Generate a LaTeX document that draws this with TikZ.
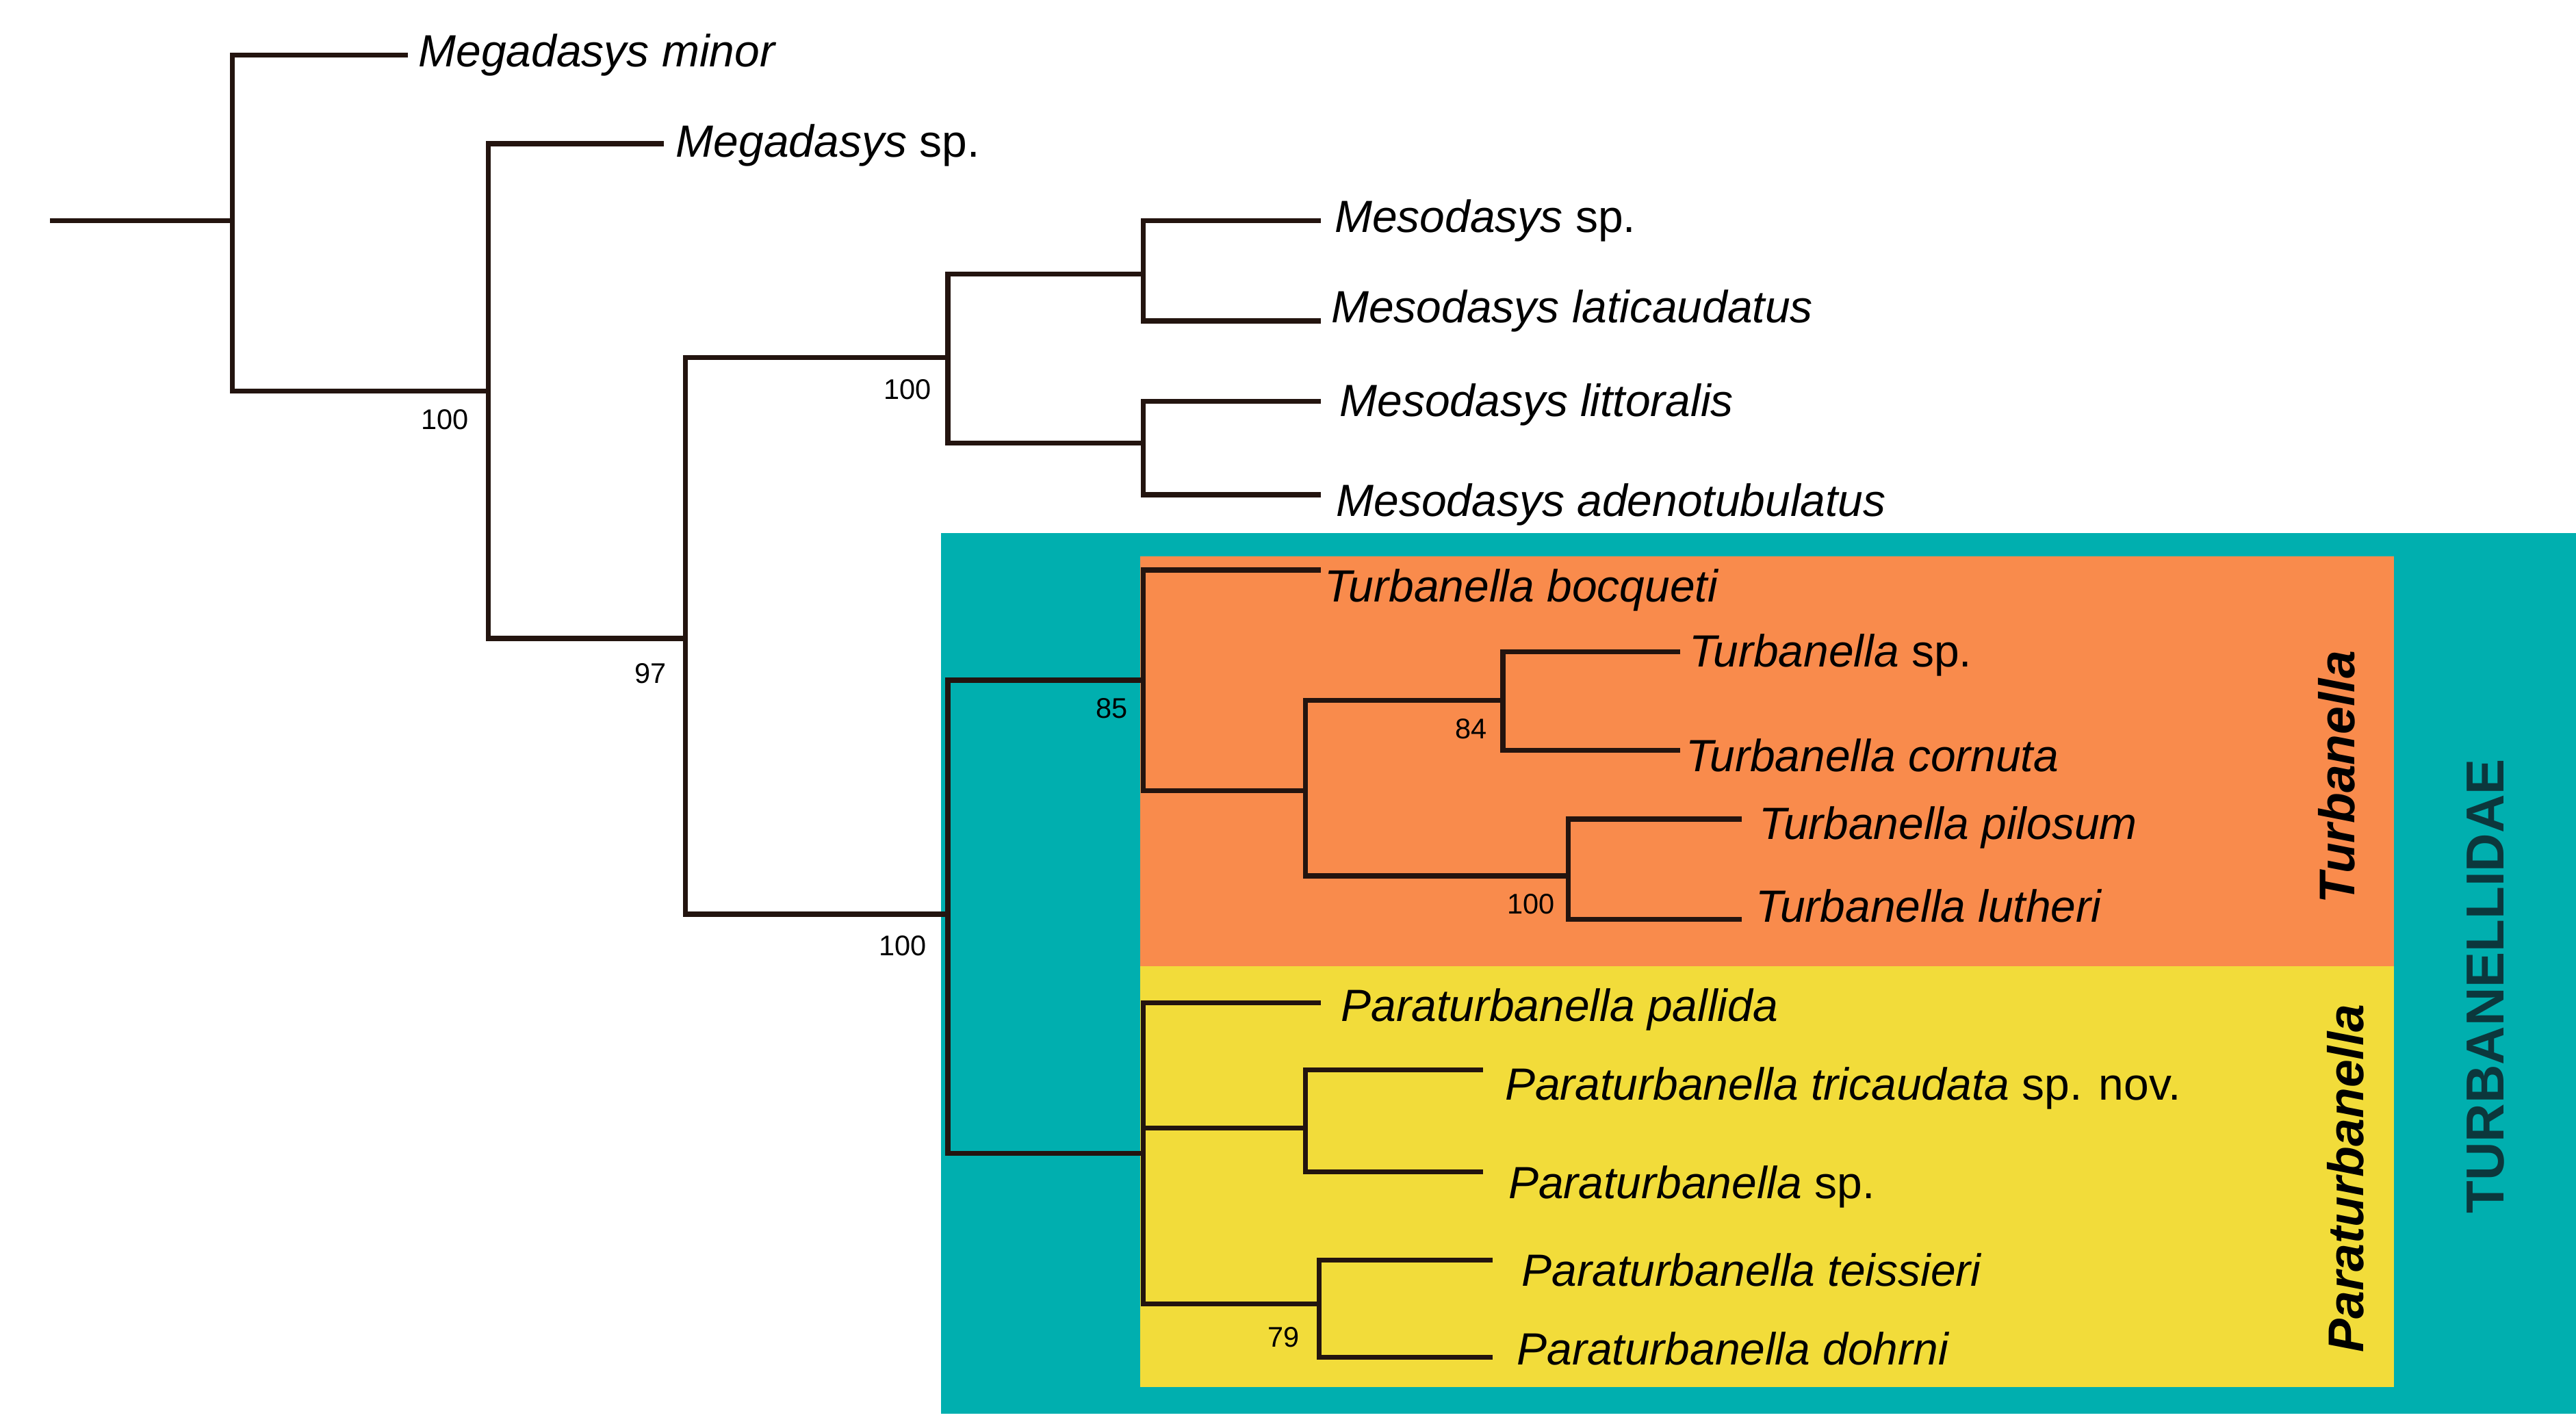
\documentclass[tikz,border=0pt]{standalone}
\usepackage{fontspec}
\setmainfont{Liberation Sans}
\definecolor{teal1}{RGB}{0,175,175}
\definecolor{orng}{RGB}{249,139,76}
\definecolor{yel}{RGB}{242,220,58}
\definecolor{dteal}{RGB}{12,55,60}
\definecolor{br}{RGB}{35,20,15}
\begin{document}
\begin{tikzpicture}[x=0.5pt,y=-0.5pt,
  br/.style={draw=br,line width=1.5pt},
  tx/.style={anchor=west,inner sep=0pt,font=\fontsize{13.5}{15}\selectfont},
  bs/.style={font=\fontsize{8.5}{10}\selectfont,inner sep=0pt}]
\useasboundingbox (0,0) rectangle (1541,851.6);
\fill[teal1] (563,319) rectangle (1541,846);
\fill[orng] (682,333) rectangle (1432,578);
\fill[yel] (682,578) rectangle (1432,830);
% tips
\coordinate (r) at (30,132);
\node[tx] (t1) at (250,33) {\textit{Megadasys minor}};
\node[tx] (t2) at (404,87) {\textit{Megadasys} sp.};
\node[tx] (t3) at (798,132) {\textit{Mesodasys} sp.};
\node[tx] (t4) at (796,186) {\textit{Mesodasys laticaudatus}};
\node[tx] (t5) at (801,242) {\textit{Mesodasys littoralis}};
\node[tx] (t6) at (799,302) {\textit{Mesodasys adenotubulatus}};
\node[tx] (t7) at (792,353) {\textit{Turbanella bocqueti}};
\node[tx] (t8) at (1010,392) {\textit{Turbanella} sp.};
\node[tx] (t9) at (1008,452) {\textit{Turbanella cornuta}};
\node[tx] (t10) at (1052,495) {\textit{Turbanella pilosum}};
\node[tx] (t11) at (1050,542) {\textit{Turbanella lutheri}};
\node[tx] (t12) at (802,604) {\textit{Paraturbanella pallida}};
\node[tx] (t13) at (900,651) {\textit{Paraturbanella tricaudata} sp. nov.};
\node[tx] (t14) at (902,710) {\textit{Paraturbanella} sp.};
\node[tx] (t15) at (910,760) {\textit{Paraturbanella teissieri}};
\node[tx] (t16) at (907,807) {\textit{Paraturbanella dohrni}};
% tree
\draw[br] (r) -- (139,132);
\draw[br] (244,33) -| (139,234) -- (292,234);
\draw[br] (397,86) -| (292,382) -- (410,382);
\draw[br] (567,214) -| (410,547) -- (567,547);
\draw[br] (684,164) -| (567,265) -- (684,265);
\draw[br] (790,132) -| (684,192) -- (790,192);
\draw[br] (790,240) -| (684,296) -- (790,296);
\draw[br] (684,407) -| (567,690) -- (684,690);
\draw[br] (790,341) -| (684,473) -- (781,473);
\draw[br] (899,419) -| (781,524) -- (938,524);
\draw[br] (1005,390) -| (899,449) -- (1005,449);
\draw[br] (1042,490) -| (938,550) -- (1042,550);
\draw[br] (790,600) -| (684,780) -- (789,780);
\draw[br] (684,675) -- (781,675);
\draw[br] (887,640) -| (781,701) -- (887,701);
\draw[br] (893,754) -| (789,812) -- (893,812);
% support
\node[bs] (b1) at (266,251) {100};
\node[bs] (b2) at (389,403) {97};
\node[bs] (b3) at (543,233) {100};
\node[bs] (b4) at (540,566) {100};
\node[bs] (b5) at (665,424) {85};
\node[bs] (b6) at (880,436) {84};
\node[bs] (b7) at (916,541) {100};
\node[bs] (b8) at (768,800) {79};
% clade labels
\node[rotate=90,font=\fontsize{15}{17}\selectfont\bfseries\itshape] (c1) at (1398,465) {Turbanella};
\node[rotate=90,font=\fontsize{15}{17}\selectfont\bfseries\itshape] (c2) at (1403,705) {Paraturbanella};
\node[rotate=90,text=dteal,font=\fontsize{16}{18}\selectfont\bfseries] (c3) at (1487,590) {TURBANELLIDAE};
\end{tikzpicture}
\end{document}
